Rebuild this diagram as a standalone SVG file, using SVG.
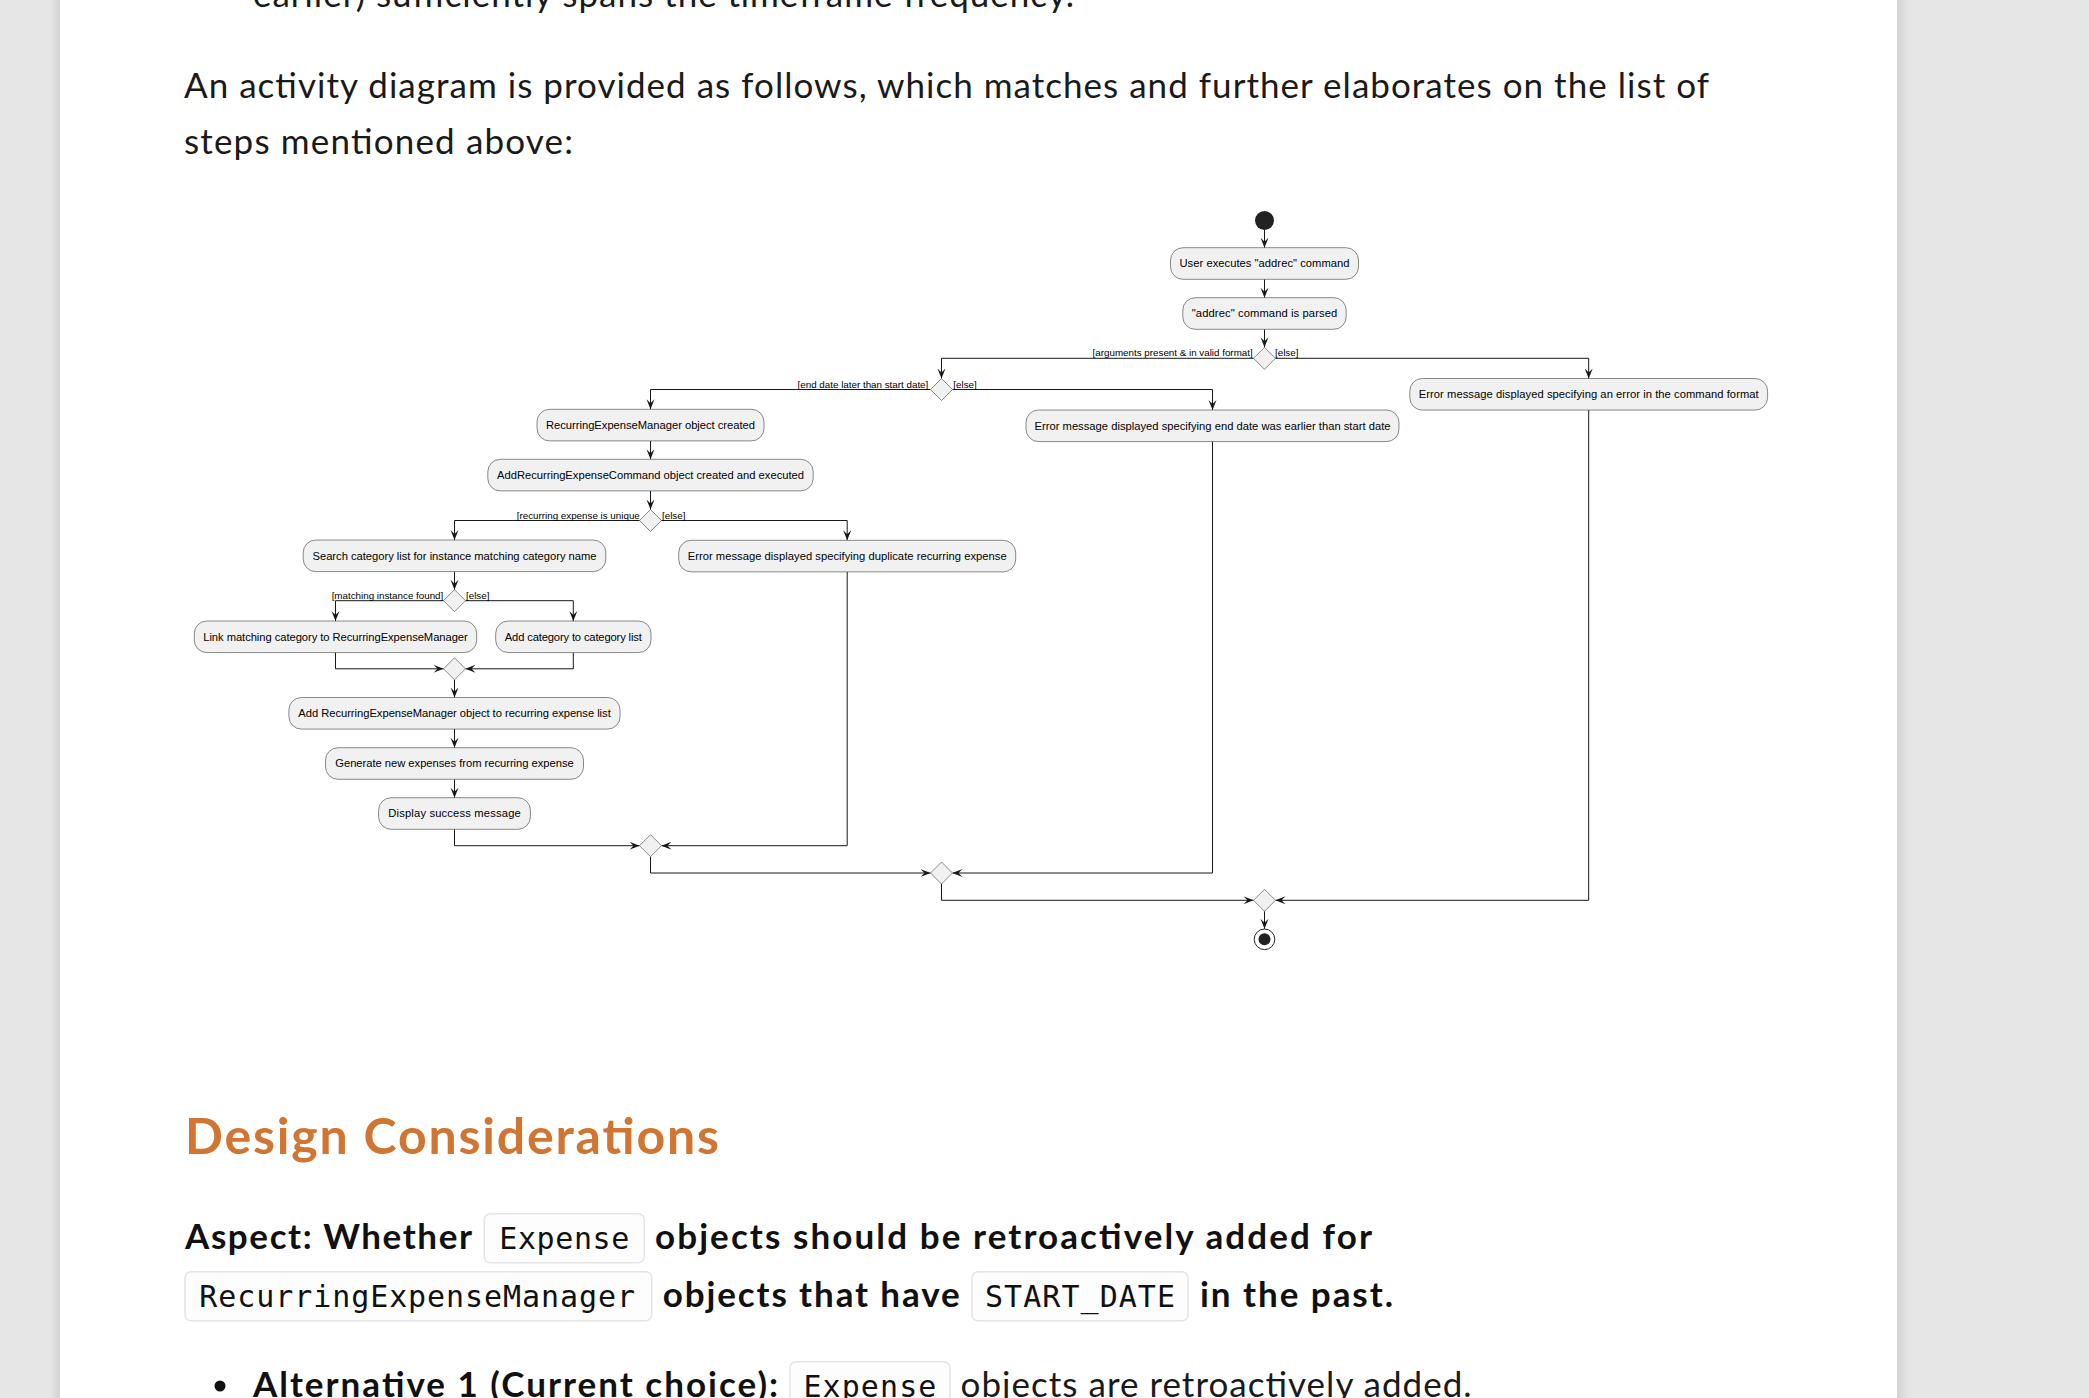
<svg xmlns="http://www.w3.org/2000/svg" width="2089" height="1398" viewBox="0 0 2089 1398">
<defs>
<style>
.box{fill:#F1F1F1;stroke:#181818;stroke-width:0.5}
.dia{fill:#F1F1F1;stroke:#181818;stroke-width:0.5}
.bt{font-family:"Liberation Sans",Arial,sans-serif;font-size:11.2px;fill:#000;text-anchor:middle}
.gl{font-family:"Liberation Sans",Arial,sans-serif;font-size:9.8px;fill:#000}
.ge{font-family:"Liberation Sans",Arial,sans-serif;font-size:9.8px;fill:#000;text-anchor:end}
.cn path{fill:none;stroke:#181818;stroke-width:1;marker-end:url(#ah)}
.body{font-family:Lato,"Open Sans",sans-serif;font-size:35px;fill:#1a1a1a}
.bold{font-family:Lato,"Open Sans",sans-serif;font-size:35px;font-weight:bold;fill:#111}
.code{font-family:"DejaVu Sans Mono","Liberation Mono",monospace;font-size:30px;fill:#111}
.cbox{fill:#fdfdfd;stroke:#e4e4e4;stroke-width:1.5}
</style>
<marker id="ah" markerUnits="userSpaceOnUse" markerWidth="10" markerHeight="10" refX="10" refY="5" orient="auto">
<path d="M0,1 L10,5 L0,9 L4,5 Z" fill="#181818"/>
</marker>
<linearGradient id="shL" x1="0" x2="1" y1="0" y2="0"><stop offset="0" stop-color="#e6e6e6"/><stop offset="1" stop-color="#d2d2d2"/></linearGradient>
<linearGradient id="shR" x1="0" x2="1" y1="0" y2="0"><stop offset="0" stop-color="#d2d2d2"/><stop offset="1" stop-color="#e6e6e6"/></linearGradient>
</defs>

<!-- page -->
<rect x="0" y="0" width="2089" height="1398" fill="#e6e6e6"/>
<rect x="50" y="0" width="10" height="1398" fill="url(#shL)"/>
<rect x="1897" y="0" width="12" height="1398" fill="url(#shR)"/>
<rect x="60" y="0" width="1837" height="1398" fill="#ffffff"/>

<text class="body" x="253" y="7" textLength="821">earlier) sufficiently spans the timeframe frequency.</text>
<text class="body" x="184" y="98" textLength="1525">An activity diagram is provided as follows, which matches and further elaborates on the list of</text>
<text class="body" x="184" y="154" textLength="389">steps mentioned above:</text>

<!-- connectors -->
<g id="connectors" class="cn">
<path d="M1264.5,230 V247.7"/>
<path d="M1264.5,279.3 V297.7"/>
<path d="M1264.5,329.3 V347.3"/>
<path d="M1253.5,358.3 H941.5 V378.5"/>
<path d="M1275.5,358.3 H1588.7 V378.5"/>
<path d="M930.5,389.5 H650.5 V409.3"/>
<path d="M952.5,389.5 H1212.5 V410"/>
<path d="M650.5,440.9 V459.3"/>
<path d="M650.5,490.9 V509.5"/>
<path d="M639.5,520.5 H454.5 V540"/>
<path d="M661.5,520.5 H847.2 V540.3"/>
<path d="M454.5,571.6 V589.7"/>
<path d="M443.5,600.7 H335.5 V621"/>
<path d="M465.5,600.7 H573.3 V621"/>
<path d="M335.5,652.6 V668.8 H443.5"/>
<path d="M573.3,652.6 V668.8 H465.5"/>
<path d="M454.5,679.8 V697.5"/>
<path d="M454.5,729.1 V747.7"/>
<path d="M454.5,779.3 V797.7"/>
<path d="M454.5,829.3 V845.7 H639.5"/>
<path d="M847.2,571.9 V845.7 H661.5"/>
<path d="M650.5,856.7 V873 H930.5"/>
<path d="M1212.5,441.6 V873 H952.5"/>
<path d="M941.5,884 V900.3 H1253.5"/>
<path d="M1588.7,410.1 V900.3 H1275.5"/>
<path d="M1264.5,911.3 V928.8"/>
</g>

<!-- guard labels -->
<g id="guards">
<text class="ge" x="1252.7" y="356">[arguments present &amp; in valid format]</text>
<text class="gl" x="1275" y="356">[else]</text>
<text class="ge" x="928.3" y="387.5">[end date later than start date]</text>
<text class="gl" x="953.3" y="387.5">[else]</text>
<text class="ge" x="639.8" y="518.5">[recurring expense is unique</text>
<text class="gl" x="662" y="518.5">[else]</text>
<text class="ge" x="443.3" y="598.5">[matching instance found]</text>
<text class="gl" x="466" y="598.5">[else]</text>
</g>

<g id="start"><circle cx="1264.5" cy="220.5" r="9.5" fill="#222222"/></g>

<g id="n1"><rect class="box" x="1170.5" y="247.7" width="188" height="31.6" rx="12.5"/><text class="bt" x="1264.5" y="267.2" textLength="170">User executes "addrec" command</text></g>
<g id="n2"><rect class="box" x="1182.8" y="297.7" width="163.4" height="31.6" rx="12.5"/><text class="bt" x="1264.5" y="317.2" textLength="145.5">"addrec" command is parsed</text></g>
<g id="d1"><polygon class="dia" points="1264.5,347.3 1275.5,358.3 1264.5,369.3 1253.5,358.3"/></g>
<g id="n3"><rect class="box" x="1409.8" y="378.5" width="357.8" height="31.6" rx="12.5"/><text class="bt" x="1588.7" y="398" textLength="340">Error message displayed specifying an error in the command format</text></g>
<g id="d2"><polygon class="dia" points="941.5,378.5 952.5,389.5 941.5,400.5 930.5,389.5"/></g>
<g id="n4"><rect class="box" x="1026" y="410" width="373" height="31.6" rx="12.5"/><text class="bt" x="1212.5" y="429.5" textLength="356">Error message displayed specifying end date was earlier than start date</text></g>
<g id="n5"><rect class="box" x="537" y="409.3" width="227" height="31.6" rx="12.5"/><text class="bt" x="650.5" y="428.8" textLength="209">RecurringExpenseManager object created</text></g>
<g id="n6"><rect class="box" x="487.8" y="459.3" width="325.4" height="31.6" rx="12.5"/><text class="bt" x="650.5" y="478.8" textLength="307">AddRecurringExpenseCommand object created and executed</text></g>
<g id="d3"><polygon class="dia" points="650.5,509.5 661.5,520.5 650.5,531.5 639.5,520.5"/></g>
<g id="n7"><rect class="box" x="303.2" y="540" width="302.6" height="31.6" rx="12.5"/><text class="bt" x="454.5" y="559.5" textLength="284">Search category list for instance matching category name</text></g>
<g id="n8"><rect class="box" x="678.7" y="540.3" width="337" height="31.6" rx="12.5"/><text class="bt" x="847.2" y="559.8" textLength="319">Error message displayed specifying duplicate recurring expense</text></g>
<g id="d4"><polygon class="dia" points="454.5,589.7 465.5,600.7 454.5,611.7 443.5,600.7"/></g>
<g id="n9"><rect class="box" x="194.3" y="621" width="282.4" height="31.6" rx="12.5"/><text class="bt" x="335.5" y="640.5" textLength="264.5">Link matching category to RecurringExpenseManager</text></g>
<g id="n10"><rect class="box" x="495.7" y="621" width="155.3" height="31.6" rx="12.5"/><text class="bt" x="573.3" y="640.5" textLength="137">Add category to category list</text></g>
<g id="d5"><polygon class="dia" points="454.5,657.8 465.5,668.8 454.5,679.8 443.5,668.8"/></g>
<g id="n11"><rect class="box" x="288.9" y="697.5" width="331.2" height="31.6" rx="12.5"/><text class="bt" x="454.5" y="717" textLength="312.5">Add RecurringExpenseManager object to recurring expense list</text></g>
<g id="n12"><rect class="box" x="325.5" y="747.7" width="258" height="31.6" rx="12.5"/><text class="bt" x="454.5" y="767.2" textLength="238.5">Generate new expenses from recurring expense</text></g>
<g id="n13"><rect class="box" x="378.6" y="797.7" width="151.8" height="31.6" rx="12.5"/><text class="bt" x="454.5" y="817.2" textLength="132.6">Display success message</text></g>
<g id="d6"><polygon class="dia" points="650.5,834.7 661.5,845.7 650.5,856.7 639.5,845.7"/></g>
<g id="d7"><polygon class="dia" points="941.5,862 952.5,873 941.5,884 930.5,873"/></g>
<g id="d8"><polygon class="dia" points="1264.5,889.3 1275.5,900.3 1264.5,911.3 1253.5,900.3"/></g>
<g id="end"><circle cx="1264.5" cy="939.3" r="10.3" fill="none" stroke="#222222" stroke-width="1"/><circle cx="1264.5" cy="939.3" r="6" fill="#222222"/></g>

<!-- lower text -->
<text x="185" y="1154" font-family="Lato,'Open Sans',sans-serif" font-size="50" font-weight="bold" fill="#D17533" textLength="534">Design Considerations</text>

<text class="bold" x="185" y="1249" textLength="287">Aspect: Whether</text>
<rect class="cbox" x="484.3" y="1213.7" width="160" height="49" rx="6"/>
<text class="code" x="499.3" y="1249" textLength="130">Expense</text>
<text class="bold" x="655" y="1249" textLength="717">objects should be retroactively added for</text>

<rect class="cbox" x="185" y="1271.7" width="466.7" height="49" rx="6"/>
<text class="code" x="199.3" y="1306.5" textLength="435.7">RecurringExpenseManager</text>
<text class="bold" x="662.7" y="1306.5" textLength="297">objects that have</text>
<rect class="cbox" x="972" y="1271.7" width="216" height="49" rx="6"/>
<text class="code" x="985" y="1306.5" textLength="190">START_DATE</text>
<text class="bold" x="1200" y="1306.5" textLength="193">in the past.</text>

<circle cx="220" cy="1386" r="5.5" fill="#111"/>
<text class="bold" x="253" y="1396.5" textLength="525">Alternative 1 (Current choice):</text>
<rect class="cbox" x="790" y="1361.7" width="160" height="49" rx="6"/>
<text class="code" x="803.4" y="1396.5" textLength="133">Expense</text>
<text class="body" x="960.6" y="1396.5" textLength="511">objects are retroactively added.</text>
</svg>
